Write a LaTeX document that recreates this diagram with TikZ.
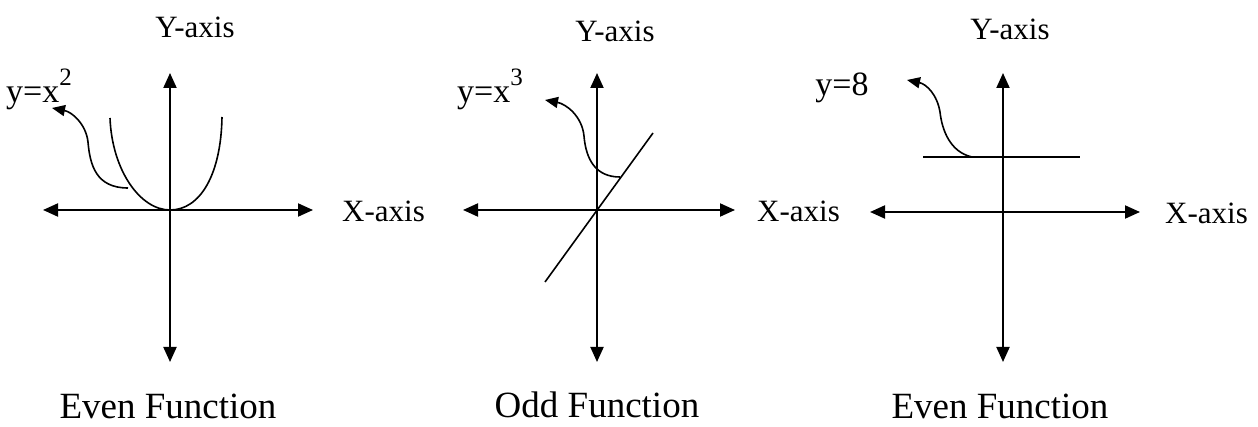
\documentclass[tikz,border=0pt]{standalone}
\usepackage{fontspec}
\setmainfont{Liberation Serif}
\usetikzlibrary{arrows.meta}
\newcommand{\supr}[1]{\raisebox{0.5em}{\fontsize{25}{25}\selectfont #1}}
\begin{document}
\begin{tikzpicture}[x=1pt,y=-1pt,
  axis/.style={line width=2pt,{Triangle[length=15pt,width=13pt]}-{Triangle[length=15pt,width=13pt]}},
  curve/.style={line width=1.6pt},
  pointer/.style={line width=1.6pt,-{Triangle[length=13pt,width=11pt]}},
  lbl/.style={inner sep=0pt,font=\fontsize{31}{34}\selectfont},
  fn/.style={inner sep=0pt,font=\fontsize{34}{38}\selectfont},
  captext/.style={inner sep=0pt,font=\fontsize{37}{40}\selectfont}]
\path[use as bounding box] (0,0) rectangle (1258,427);
% ---------- panel 1 ----------
\coordinate (a1t) at (170,73); \coordinate (a1b) at (170,362);
\coordinate (a1l) at (43,210); \coordinate (a1r) at (313,210);
\draw[axis] (a1b) -- (a1t);
\draw[axis] (a1l) -- (a1r);
\node[lbl] (y1) at (195,27) {Y-axis};
\node[lbl,anchor=west] (x1) at (342,211) {X-axis};
\node[fn,anchor=base west] (f1) at (6,103) {y=x\supr{2}};
\coordinate (p1l) at (110,118); \coordinate (p1v) at (170,210); \coordinate (p1r) at (222,117);
\draw[curve] (p1l) .. controls (112,170) and (140,210) .. (p1v) .. controls (200,210) and (221,175) .. (p1r);
\coordinate (q1) at (128,188); \coordinate (t1) at (52,108);
\draw[pointer] (q1) .. controls (96,188) and (90,165) .. (88,142) .. controls (86,124) and (72,112) .. (t1);
\node[captext] (c1) at (168,406) {Even Function};
% ---------- panel 2 ----------
\coordinate (a2t) at (597,73); \coordinate (a2b) at (597,362);
\coordinate (a2l) at (463,210); \coordinate (a2r) at (735,210);
\draw[axis] (a2b) -- (a2t);
\draw[axis] (a2l) -- (a2r);
\node[lbl] (y2) at (615,31) {Y-axis};
\node[lbl,anchor=west] (x2) at (757,211) {X-axis};
\node[fn,anchor=base west] (f2) at (457,103) {y=x\supr{3}};
\coordinate (l2a) at (545,282); \coordinate (l2b) at (653,133);
\draw[curve] (l2a) -- (l2b);
\coordinate (q2) at (620,177); \coordinate (t2) at (545,100);
\draw[pointer] (q2) .. controls (596,177) and (586,160) .. (584,136) .. controls (582,116) and (566,104) .. (t2);
\node[captext] (c2) at (597,405) {Odd Function};
% ---------- panel 3 ----------
\coordinate (a3t) at (1003,73); \coordinate (a3b) at (1003,362);
\coordinate (a3l) at (870,212); \coordinate (a3r) at (1140,212);
\draw[axis] (a3b) -- (a3t);
\draw[axis] (a3l) -- (a3r);
\node[lbl] (y3) at (1010,29) {Y-axis};
\node[lbl,anchor=west] (x3) at (1165,213) {X-axis};
\node[fn] (f3) at (842,88) {y=8};
\coordinate (h3a) at (923,157); \coordinate (h3b) at (1080,157);
\draw[curve] (h3a) -- (h3b);
\coordinate (q3) at (972,157); \coordinate (t3) at (907,80);
\draw[pointer] (q3) .. controls (950,152) and (942,130) .. (940,112) .. controls (937,94) and (926,84) .. (t3);
\node[captext] (c3) at (1000,406) {Even Function};
\end{tikzpicture}
\end{document}
